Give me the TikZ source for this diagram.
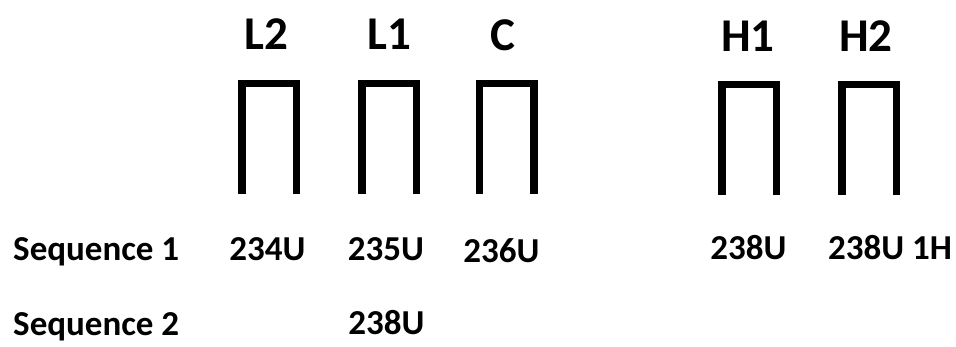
\documentclass[tikz,border=0pt]{standalone}
\usepackage{fontspec}
\setmainfont{Carlito}
\begin{document}
\begin{tikzpicture}[x=1pt,y=-1pt,
  toplabel/.style={font=\fontsize{47}{56}\selectfont\bfseries, inner sep=0pt, anchor=base},
  seqlabel/.style={font=\fontsize{35}{40}\selectfont\bfseries, inner sep=0pt, anchor=base},
  gate/.pic={\draw[line width=7.4pt, line join=miter, line cap=butt] (0,110.5) -- (0,0) -- (54.5,0) -- (54.5,110.5);}]
\useasboundingbox (0,0) rectangle (956,347);
% gates
\pic at (242,83.5) {gate};
\pic at (362,83.5) {gate};
\pic at (479.5,83.5) {gate};
\pic at (722,84.5) {gate};
\pic at (842,84.5) {gate};
% top labels
\node[toplabel] (tL2) at (266.5,50) {L2};
\node[toplabel] (tL1) at (389.5,50) {L1};
\node[toplabel] (tC) at (503,51) {C};
\node[toplabel] (tH1) at (748,52) {H1};
\node[toplabel] (tH2) at (866,52) {H2};
% sequence rows
\node[seqlabel, anchor=base west] (s1) at (13,261) {Sequence 1};
\node[seqlabel] (a1) at (267.5,261) {234U};
\node[seqlabel] (a2) at (386,261) {235U};
\node[seqlabel] (a3) at (501.5,263) {236U};
\node[seqlabel] (a4) at (748.5,260) {238U};
\node[seqlabel, anchor=base west] (a5) at (828,260) {238U 1H};
\node[seqlabel, anchor=base west] (s2) at (13,336) {Sequence 2};
\node[seqlabel] (b1) at (386.5,335) {238U};
\end{tikzpicture}
\end{document}
